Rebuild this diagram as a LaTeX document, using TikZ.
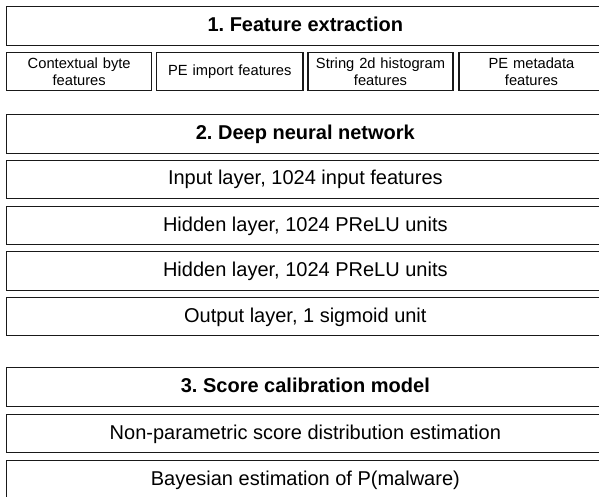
\documentclass[tikz,border=0pt]{standalone}
\usepackage{fontspec}
\setmainfont{Liberation Sans}
\frenchspacing
\begin{document}
\begin{tikzpicture}[x=1pt,y=1pt,
  boxbase/.style={draw=black!90, line width=1.4pt, inner sep=0pt, align=center},
  wide/.style={boxbase, minimum width=597.3pt, minimum height=38.5pt,
    text height=14.4pt, text depth=3.4pt, font=\fontsize{20}{24}\selectfont},
  head/.style={wide, font=\fontsize{20}{24}\selectfont\bfseries},
  feat/.style={boxbase, minimum height=38.5pt, text width=#1, minimum width=#1,
    font=\fontsize{14.7}{17.5}\selectfont}]
\useasboundingbox (0,0) rectangle (599,-497);
\clip (0,0) rectangle (599,-497);
\fill[white] (0,0) rectangle (599,-497);
% 1. Feature extraction
\node[head] (fe) at (305.35,-26) {1. Feature extraction};
\node[feat=145pt] (f1) at (79.2,-71.5) {Contextual byte\\features};
\node[feat=146.3pt] (f2) at (229.85,-71.5) {PE import features};
\node[feat=145pt] (f3) at (380.5,-71.5) {String 2d histogram\\features};
\node[feat=145pt] (f4) at (531.5,-71.5) {PE metadata\\features};
% 2. Deep neural network
\node[head] (dnn) at (305.35,-134) {2. Deep neural network};
\node[wide] (in) at (305.35,-179.5) {Input layer, 1024 input features};
\node[wide] (h1) at (305.35,-225.5) {Hidden layer, 1024 PReLU units};
\node[wide] (h2) at (305.35,-271) {Hidden layer, 1024 PReLU units};
\node[wide] (out) at (305.35,-316.5) {Output layer, 1 sigmoid unit};
% 3. Score calibration model
\node[head] (sc) at (305.35,-387) {3. Score calibration model};
\node[wide] (np) at (305.35,-433.5) {Non-parametric score distribution estimation};
\node[wide] (bay) at (305.35,-479.5) {Bayesian estimation of P(malware)};
\end{tikzpicture}
\end{document}
